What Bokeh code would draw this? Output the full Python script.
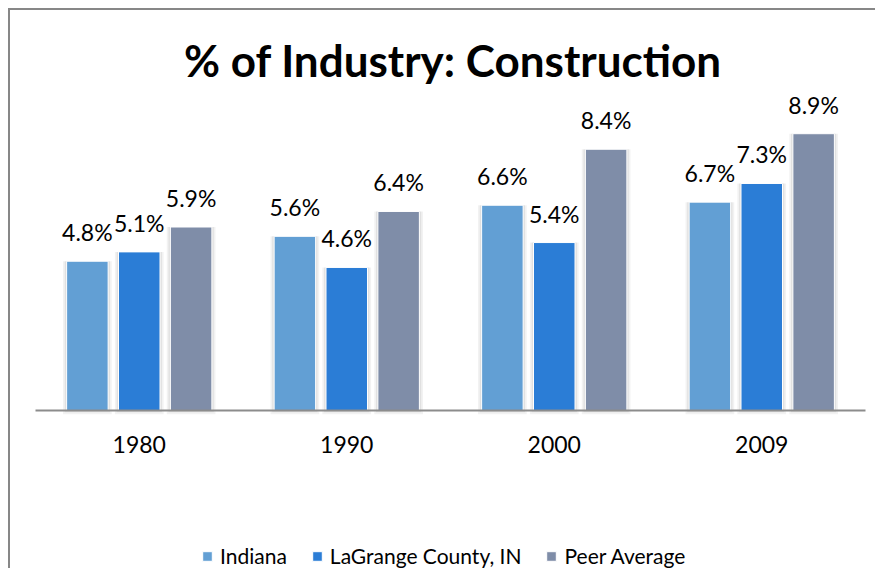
import numpy as np
from bokeh.plotting import figure
from bokeh.models import Range1d, Label, Legend, LegendItem, ColumnDataSource
from bokeh.core.properties import value
from bokeh.embed import file_html
from bokeh.resources import INLINE

# ---- data ----
title_text = "% of Industry: Construction"
years = ["1980", "1990", "2000", "2009"]
series_names = ["Indiana", "LaGrange County, IN", "Peer Average"]
indiana = [4.8, 5.6, 6.6, 6.7]
lagrange = [5.1, 4.6, 5.4, 7.3]
peer = [5.9, 6.4, 8.4, 8.9]

colors = ["#629FD4", "#2B7DD6", "#7F8DA8"]
offsets = [-0.25, 0.0, 0.25]
bar_w = 0.2

W, H = 867, 560
cat_px = 207.5          # pixels per category
x0_px = 128.75          # pixel of first category centre
y0_px = 400             # pixel (from top) of value zero
px_per_unit = 31.1

x_start = -x0_px / cat_px
x_end = (W - x0_px) / cat_px
y_end = y0_px / px_per_unit
y_start = -(H - y0_px) / px_per_unit

p = figure(width=W, height=H, output_backend="svg", toolbar_location=None,
           x_range=Range1d(x_start, x_end), y_range=Range1d(y_start, y_end),
           min_border=0)
p.styles = {"border-left": "2px solid #878787", "border-top": "2px solid #878787",
            "margin-left": "8px", "margin-top": "8px"}
p.axis.visible = False
p.grid.visible = False
p.outline_line_color = None
p.background_fill_color = "white"
p.border_fill_color = "white"

FONT = "Lato"
idx = np.arange(len(years))

# category labels
p.text(x=idx, y=np.zeros(len(years)), text=years, text_align="center",
       text_baseline="alphabetic", y_offset=34,
       text_font=value(FONT), text_font_size="23px", text_color="#000000")

items = []
for name, vals, col, off in zip(series_names, [indiana, lagrange, peer], colors, offsets):
    xs = idx + off
    src = ColumnDataSource(dict(x=xs, top=vals, lab=[f"{v}%" for v in vals]))
    # soft shadow
    p.vbar(x="x", top="top", width=bar_w + 0.035, source=src, bottom=-0.12,
           fill_color="#000000", fill_alpha=0.05, line_color=None)
    p.vbar(x="x", top="top", width=bar_w + 0.018, source=src, bottom=-0.06,
           fill_color="#000000", fill_alpha=0.07, line_color=None)
    r = p.vbar(x="x", top="top", width=bar_w, source=src, bottom=0,
               fill_color=col, line_color="white", line_width=1)
    p.text(x="x", y="top", text="lab", source=src, text_align="center",
           text_baseline="alphabetic", y_offset=-29,
           text_font=value(FONT), text_font_size="23px", text_color="#000000")
    items.append(LegendItem(label=name, renderers=[r]))

# axis baseline
p.segment(x0=[-0.5], y0=[0], x1=[len(years) - 0.5], y1=[0],
          line_color="#8C8C8C", line_width=2)

title_x = (442.5 - x0_px) / cat_px
title_y = (y0_px - 49) / px_per_unit
p.add_layout(Label(x=title_x, y=title_y, text=title_text, text_align="center",
                   text_baseline="alphabetic", text_font=FONT,
                   text_font_style="bold", text_font_size="44px",
                   text_color="#000000"))

legend = Legend(items=items, orientation="horizontal", location=(191, 2),
                glyph_width=12, glyph_height=12, label_standoff=7, spacing=24,
                padding=0, margin=0, border_line_color=None,
                background_fill_alpha=0,
                label_text_font=FONT, label_text_font_size="21px",
                label_text_color="#000000")
p.add_layout(legend, "center")

open("out.html", "w").write(file_html(p, INLINE))
